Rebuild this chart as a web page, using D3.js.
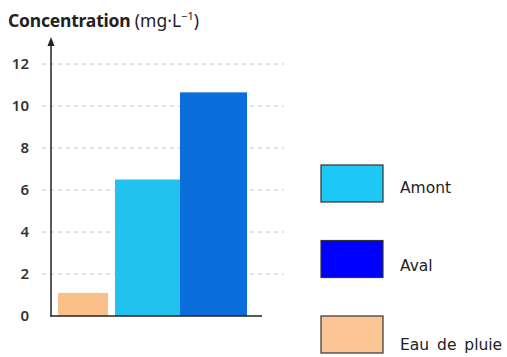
<!DOCTYPE html>
<html><head><meta charset="utf-8">
<script src="https://cdn.jsdelivr.net/npm/d3@7"></script>
<style>body{margin:0;background:#fff}</style>
</head><body>
<svg id="c" width="507" height="357"></svg>
<script>
const categories = ["Eau de pluie", "Amont", "Aval"];
const values = [1.1, 6.5, 10.65];
const barColors = ["#fbbf8a", "#22c2ef", "#0a6fdc"];
const legendLabels = ["Amont", "Aval", "Eau de pluie"];
const legendColors = ["#1ec8f6", "#0000ff", "#fbc594"];
const yTicks = [0, 2, 4, 6, 8, 10, 12];

const svg = d3.select("#c");
const y = d3.scaleLinear().domain([0, 12]).range([316, 64]);
const x = d3.scaleOrdinal().domain(categories).range([[58,108],[115,180],[180,247]]);

// gridlines
svg.append("g").selectAll("line").data(yTicks.filter(d=>d>0)).join("line")
  .attr("x1", 42).attr("x2", 284).attr("y1", d=>y(d)).attr("y2", d=>y(d))
  .attr("stroke", "#c8c8c8").attr("stroke-width", 1).attr("stroke-dasharray", "4,4");

// bars
svg.append("g").selectAll("rect").data(categories).join("rect")
  .attr("x", d=>x(d)[0]).attr("width", d=>x(d)[1]-x(d)[0])
  .attr("y", (d,i)=>y(values[i])).attr("height", (d,i)=>y(0)-y(values[i]))
  .attr("fill", (d,i)=>barColors[i]);

// axis
const ax = svg.append("g").attr("transform","translate(51,0)")
  .call(d3.axisLeft(y).tickValues(yTicks).tickSize(0).tickPadding(22).tickFormat(d3.format("d")));
ax.select(".domain").remove();
ax.selectAll("text").attr("font-family","Noto Sans").attr("font-size",15).attr("font-weight",600).attr("fill","#333");

svg.append("line").attr("x1",51).attr("x2",51).attr("y1",y(0)).attr("y2",42).attr("stroke","#222").attr("stroke-width",1.5);
svg.append("path").attr("d","M51,37 L47.5,46 L54.5,46 Z").attr("fill","#222");
svg.append("line").attr("x1",50).attr("x2",262).attr("y1",y(0)).attr("y2",y(0)).attr("stroke","#222").attr("stroke-width",1.5);

// title
const t = svg.append("text").attr("x",8).attr("y",27).attr("font-family","Noto Sans").attr("font-size",17.5).attr("fill","#222");
t.append("tspan").attr("font-weight",700).attr("letter-spacing",-0.2).text("Concentration ");
t.append("tspan").text("(mg·L");
t.append("tspan").attr("font-size",11).attr("dy",-7).text("−1");
t.append("tspan").attr("dy",7).text(")");

// legend
const lg = svg.append("g").selectAll("g").data(legendLabels).join("g")
  .attr("transform",(d,i)=>`translate(321,${165 + i*75.5})`);
lg.append("rect").attr("width",62).attr("height",37).attr("fill",(d,i)=>legendColors[i]).attr("stroke","#333").attr("stroke-width",1.2);
lg.append("text").attr("x",79).attr("y",(d,i)=>[28,30,34][i]).attr("font-family","DejaVu Sans").attr("font-size",15.5).attr("word-spacing",3).attr("fill","#222").text(d=>d);
</script>
</body></html>
